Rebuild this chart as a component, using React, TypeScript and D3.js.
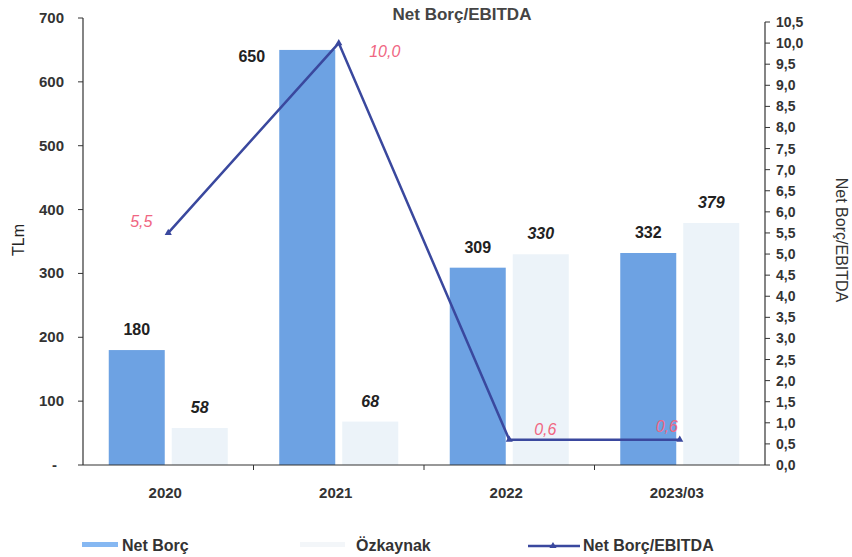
import React from "react";
import * as d3 from "d3";

const categories = ["2020", "2021", "2022", "2023/03"];
const netBorc = [180, 650, 309, 332];
const ozkaynak = [58, 68, 330, 379];
const ratio = [5.5, 10.0, 0.6, 0.6];
const ratioLabels = ["5,5", "10,0", "0,6", "0,6"];
const leftTicks = [0, 100, 200, 300, 400, 500, 600, 700];
const rightTicks = d3.range(0, 10.51, 0.5);

const W = 852;
const H = 557;
const M = { left: 83, right: 765, top: 18, bottom: 465 };
const FONT = "'Liberation Sans', Arial, sans-serif";

export default function App() {
  const x = d3.scaleBand<string>().domain(categories).range([M.left, M.right]).padding(0);
  const yL = d3.scaleLinear().domain([0, 700]).range([M.bottom, M.top]);
  const yR = d3.scaleLinear().domain([0, 10.5]).range([M.bottom, M.top + 4]);
  const bw = 56;
  const gap = 7;
  const cx = (c: string) => (x(c) as number) + x.bandwidth() / 2;
  const line = d3
    .line<number>()
    .x((_, i) => cx(categories[i]))
    .y((d) => yR(d));

  const lblOff = [
    [-27, -6],
    [46, 14],
    [36, -5],
    [-13, -8],
  ];

  return (
    <svg width={W} height={H} style={{ position: "absolute", left: 0, top: 0, background: "#fff" }} fontFamily={FONT}>
      <text x={462} y={20} textAnchor="middle" fontSize={17} fontWeight="bold" fill="#444">
        Net Borç/EBITDA
      </text>

      {categories.map((c, i) => (
        <g key={c}>
          <rect x={cx(c) - gap / 2 - bw} y={yL(netBorc[i])} width={bw} height={M.bottom - yL(netBorc[i])} fill="#6da2e3" />
          <rect x={cx(c) + gap / 2} y={yL(ozkaynak[i])} width={bw} height={M.bottom - yL(ozkaynak[i])} fill="#ecf3f9" />
        </g>
      ))}

      {categories.map((c, i) => {
        const nx = i === 1 ? cx(c) - 87 : cx(c) - gap / 2 - bw / 2;
        const ny = i === 1 ? yL(netBorc[i]) + 12 : yL(netBorc[i]) - 15;
        return (
          <g key={"l" + c}>
            <text x={nx} y={ny} textAnchor="middle" fontSize={16} fontWeight="bold" fill="#222">
              {netBorc[i]}
            </text>
            <text
              x={cx(c) + gap / 2 + bw / 2}
              y={yL(ozkaynak[i]) - 15}
              textAnchor="middle"
              fontSize={16}
              fontWeight="bold"
              fontStyle="italic"
              fill="#222"
            >
              {ozkaynak[i]}
            </text>
          </g>
        );
      })}

      <path d={line(ratio) as string} fill="none" stroke="#3a489e" strokeWidth={2.5} />
      {ratio.map((v, i) => (
        <path
          key={"m" + i}
          d={d3.symbol().type(d3.symbolTriangle).size(22)() as string}
          transform={`translate(${cx(categories[i])},${yR(v)})`}
          fill="#3a489e"
        />
      ))}
      {ratio.map((v, i) => (
        <text
          key={"rl" + i}
          x={cx(categories[i]) + lblOff[i][0]}
          y={yR(v) + lblOff[i][1]}
          textAnchor="middle"
          fontSize={16}
          fontStyle="italic"
          fill="#f06682"
        >
          {ratioLabels[i]}
        </text>
      ))}

      <line x1={M.left} x2={M.left} y1={M.top} y2={M.bottom} stroke="#333" strokeWidth={1.2} />
      {leftTicks.map((t) => (
        <g key={"lt" + t}>
          <line x1={M.left - 5} x2={M.left} y1={yL(t)} y2={yL(t)} stroke="#333" />
          <text x={t === 0 ? 57 : 64} y={yL(t) + 5} textAnchor="end" fontSize={15} fontWeight="bold" fill="#333">
            {t === 0 ? "-" : t}
          </text>
        </g>
      ))}
      <text transform={`translate(24,${240}) rotate(-90)`} textAnchor="middle" fontSize={16} fill="#222">
        TLm
      </text>

      <line x1={M.right} x2={M.right} y1={M.top + 4} y2={M.bottom} stroke="#333" strokeWidth={1.2} />
      {rightTicks.map((t) => (
        <g key={"rt" + t}>
          <line x1={M.right} x2={M.right + 5} y1={yR(t)} y2={yR(t)} stroke="#333" />
          <text x={776} y={yR(t) + 5} textAnchor="start" fontSize={14} fontWeight="bold" fill="#333">
            {t.toFixed(1).replace(".", ",")}
          </text>
        </g>
      ))}
      <text transform={`translate(836,${240}) rotate(90)`} textAnchor="middle" fontSize={16} fill="#333">
        Net Borç/EBITDA
      </text>

      <line x1={M.left} x2={M.right} y1={M.bottom} y2={M.bottom} stroke="#333" strokeWidth={1.2} />
      {categories.map((c, i) => (
        <g key={"x" + c}>
          {i > 0 && <line x1={x(c) as number} x2={x(c) as number} y1={M.bottom} y2={M.bottom + 5} stroke="#333" />}
          <text x={cx(c) - 3} y={M.bottom + 33} textAnchor="middle" fontSize={15} fontWeight="bold" fill="#333">
            {c}
          </text>
        </g>
      ))}

      <g fontSize={16} fontWeight="bold" fill="#333">
        <rect x={82} y={542} width={36} height={5} fill="#86b8f2" />
        <text x={122} y={551}>Net Borç</text>
        <rect x={300} y={542} width={45} height={5} fill="#f3f6f9" />
        <text x={356} y={551}>Özkaynak</text>
        <line x1={528} x2={580} y1={546} y2={546} stroke="#3a489e" strokeWidth={2.5} />
        <path d={d3.symbol().type(d3.symbolTriangle).size(22)() as string} transform="translate(553,546)" fill="#3a489e" />
        <text x={583} y={551}>Net Borç/EBITDA</text>
      </g>
    </svg>
  );
}
